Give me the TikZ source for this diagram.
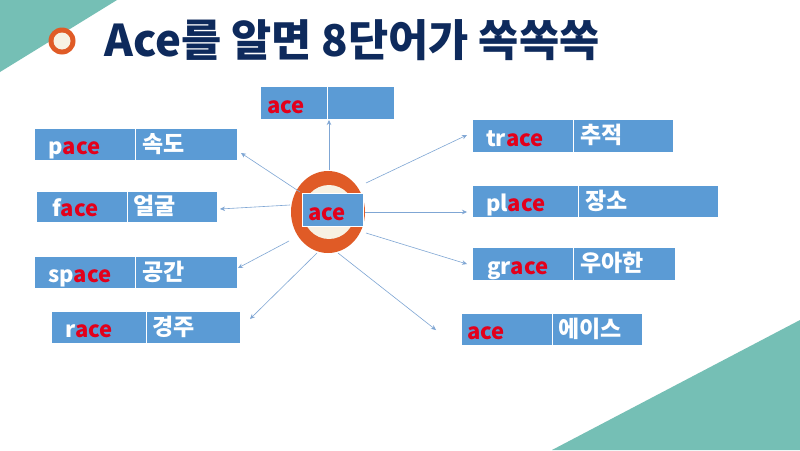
\documentclass[tikz,border=0pt]{standalone}
\usepackage{fontspec}
\setmainfont{Noto Sans CJK KR}
\usetikzlibrary{arrows.meta}
\definecolor{teal1}{HTML}{75BFB5}
\definecolor{boxblue}{HTML}{5B9BD5}
\definecolor{redtxt}{HTML}{E3001B}
\definecolor{ring}{HTML}{E05B26}
\definecolor{cream}{HTML}{F7F1E3}
\definecolor{navy}{HTML}{0E2A5C}
\definecolor{arrowc}{HTML}{7FA6D4}
\tikzset{
  wbox/.style={fill=boxblue, draw=white, line width=0.8pt},
  divline/.style={draw=white, line width=0.8pt},
  entxt/.style={anchor=base west, inner sep=0pt, text=white, font=\fontsize{22}{24}\selectfont\bfseries},
  kotxt/.style={anchor=base west, inner sep=0pt, text=white, font=\fontsize{23}{26}\selectfont\bfseries},
  conn/.style={draw=arrowc, line width=0.6pt, -{Stealth[length=5pt,width=4.5pt]}},
}
\newcommand{\rd}[1]{\textcolor{redtxt}{#1}}
\begin{document}
\begin{tikzpicture}[x=1pt,y=-1pt]
\useasboundingbox (0,0) rectangle (800,450);
\fill[white] (0,0) rectangle (800,450);
% corner triangles
\fill[teal1] (0,0) -- (117,0) -- (0,72) -- cycle;
\fill[teal1] (552,450) -- (800,320) -- (800,450) -- cycle;
% title
\fill[ring] (62,41) circle (13.5);
\fill[cream] (62,41) circle (8.5);
\node[anchor=base west, inner sep=0pt, text=navy, font=\fontsize{43.7}{48}\selectfont\bfseries] (title) at (104,56) {Ace를 알면 8단어가 쏙쏙쏙};
% central ring
\fill[ring] (328,212) ellipse [x radius=37, y radius=41];
\fill[cream] (329,212) ellipse [x radius=26, y radius=27];
\node[wbox, minimum width=61, minimum height=33, inner sep=0pt] (center) at (332.5,209.5) {};
\node[entxt] (centert) at (308,220) {\rd{ace}};
% boxes
\node[wbox, minimum width=134, minimum height=33, inner sep=0pt] (acetop) at (327,102.5) {};
\draw[divline] (327,86) -- (327,119);
\node[entxt] (acetopt) at (267,113) {\rd{ace}};

\node[wbox, minimum width=203, minimum height=32, inner sep=0pt] (pace) at (135.5,144) {};
\draw[divline] (135,128) -- (135,160);
\node[entxt] (pacet) at (48,154.5) {p\rd{ace}};
\node[kotxt] (pacek) at (142,152) {속도};

\node[wbox, minimum width=181, minimum height=31, inner sep=0pt] (face) at (126.5,206.5) {};
\draw[divline] (127,191) -- (127,222);
\node[entxt] (facet) at (52,216.5) {f\rd{ace}};
\node[kotxt] (facek) at (133,214) {얼굴};

\node[wbox, minimum width=203, minimum height=32, inner sep=0pt] (space) at (135.5,272) {};
\draw[divline] (135,256) -- (135,288);
\node[entxt] (spacet) at (48,282.5) {sp\rd{ace}};
\node[kotxt] (spacek) at (142,280) {공간};

\node[wbox, minimum width=189, minimum height=32, inner sep=0pt] (race) at (145.5,327) {};
\draw[divline] (146,311) -- (146,343);
\node[entxt] (racet) at (65,337.5) {r\rd{ace}};
\node[kotxt] (racek) at (152,335) {경주};

\node[wbox, minimum width=201, minimum height=33, inner sep=0pt] (trace) at (572.5,135.5) {};
\draw[divline] (573,119) -- (573,152);
\node[entxt] (tracet) at (486,146) {tr\rd{ace}};
\node[kotxt] (tracek) at (580,143.5) {추적};

\node[wbox, minimum width=246, minimum height=32, inner sep=0pt] (place) at (595,201) {};
\draw[divline] (578,185) -- (578,217);
\node[entxt] (placet) at (486,211.5) {pl\rd{ace}};
\node[kotxt] (placek) at (585,209) {장소};

\node[wbox, minimum width=203, minimum height=33, inner sep=0pt] (grace) at (573.5,263.5) {};
\draw[divline] (573,247) -- (573,280);
\node[entxt] (gracet) at (487,274) {gr\rd{ace}};
\node[kotxt] (gracek) at (580,271.5) {우아한};

\node[wbox, minimum width=181, minimum height=32, inner sep=0pt] (ace2) at (551.5,329) {};
\draw[divline] (552,313) -- (552,345);
\node[entxt] (ace2t) at (467,339.5) {\rd{ace}};
\node[kotxt] (ace2k) at (558,337) {에이스};

% connectors
\coordinate (s0) at (329,170); \coordinate (e0) at (329,120);
\coordinate (s1) at (300,192); \coordinate (e1) at (241,153);
\coordinate (s2) at (290,205); \coordinate (e2) at (220,209);
\coordinate (s3) at (289,241); \coordinate (e3) at (238,268);
\coordinate (s4) at (317,253); \coordinate (e4) at (250,319);
\coordinate (s5) at (366,183); \coordinate (e5) at (467,135);
\coordinate (s6) at (365,212); \coordinate (e6) at (467,212);
\coordinate (s7) at (366,233); \coordinate (e7) at (467,264);
\coordinate (s8) at (338,253); \coordinate (e8) at (436,330);
\foreach \i in {0,...,8} {\draw[conn] (s\i) -- (e\i);}
\end{tikzpicture}
\end{document}
